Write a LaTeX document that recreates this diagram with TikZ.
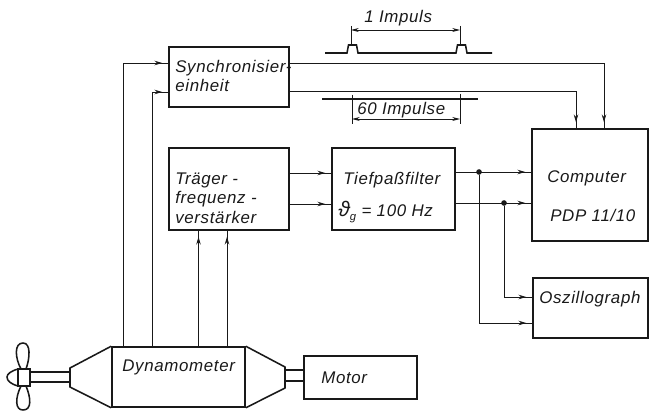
\documentclass[tikz,border=0pt]{standalone}
\usepackage{fontspec}
\setmainfont[LetterSpace=4]{Liberation Sans}
\usepackage{xcolor}
\definecolor{inkcolor}{RGB}{25,25,25}
\usepackage{tikz}
\usetikzlibrary{arrows.meta,decorations.markings}

\begin{document}
\begin{tikzpicture}[x=0.025cm, y=-0.025cm, every node/.style={color=inkcolor, font=\fontsize{12}{14}\selectfont\itshape},
    box/.style={draw=inkcolor, line width=1.1pt, inner sep=0pt},
    boxtext/.style={anchor=west, align=left, inner sep=0pt},
    dot/.style={circle, fill=inkcolor, inner sep=0pt, minimum size=4pt},
    sig/.style={draw=inkcolor, line width=0.6pt},
    sigin/.style={sig, postaction={decorate}, decoration={markings, mark=at position -0.15cm with {\arrow{Stealth[length=5.5pt,width=3.2pt]}}}},
    dim/.style={draw=inkcolor, line width=0.6pt, {Stealth[length=5.5pt,width=2.8pt]}-{Stealth[length=5.5pt,width=2.8pt]}},
    body/.style={draw=inkcolor, line width=1.1pt}]
  \useasboundingbox (0,0) rectangle (649,413);

  % boxes
  \node[box, minimum width=3cm, minimum height=1.5cm] (sync) at (229,77) {};
  \node[box, minimum width=3cm, minimum height=2.05cm] (traeger) at (229,189) {};
  \node[box, minimum width=3.075cm, minimum height=2.05cm] (tief) at (393.5,189) {};
  \node[box, minimum width=2.9cm, minimum height=2.8cm] (comp) at (590,185) {};
  \node[box, minimum width=2.875cm, minimum height=1.5cm] (oszi) at (590.5,308) {};
  \node[box, minimum width=2.825cm, minimum height=1.075cm] (motor) at (360.5,377.5) {};
  \node[box, minimum width=3.325cm, minimum height=1.5cm] (dyn) at (178.5,377) {};

  % labels
  \node[boxtext] (synctext) at (175,76) {Synchronisier-\\einheit};
  \node[boxtext] (traegertext) at (175,198) {Träger -\\frequenz -\\verstärker};
  \node[boxtext] (tieftext) at (343,180) {Tiefpaßfilter};
  \node[boxtext] (grenztext) at (338,212) {{\fontsize{15}{15}\selectfont ϑ}\raisebox{-3pt}{\footnotesize g} = 100 Hz};
  \node[boxtext] (comptext) at (547,178) {Computer};
  \node[boxtext] (pdptext) at (550,215) {PDP 11/10};
  \node[boxtext] (oszitext) at (539,299) {Oszillograph};
  \node[boxtext] (dyntext) at (122,367) {Dynamometer};
  \node[boxtext] (motortext) at (321,378) {Motor};
  \node[boxtext] (einstext) at (364,18) {1 Impuls};
  \node[boxtext] (sechzigtext) at (357,110) {60 Impulse};

  % propeller and shafts
  \draw[body] (dyn.north west) -- (70,368) -- (70,387) -- (dyn.south west);
  \draw[body] (dyn.north east) -- (285,367) -- (285,388) -- (dyn.south east);
  \draw[body] (30,372) -- (70,372) (30,382) -- (70,382);
  \draw[body] (285,370) -- (motor.west |- 0,370) (285,381) -- (motor.west |- 0,381);
  \draw[body] (18,369) rectangle (30,386);
  \draw[body] (18,369) .. controls (11,371) and (7,374) .. (7,377) .. controls (7,381) and (11,384) .. (18,386);
  \draw[body] (21,369) .. controls (15,358) and (14,343) .. (23,343) .. controls (31,343) and (30,358) .. (26,369);
  \draw[body] (21,386) .. controls (15,398) and (15,410) .. (23,410) .. controls (32,410) and (31,398) .. (26,386);

  % connectors
  \coordinate (dynA) at (123,0 |- dyn.north);
  \coordinate (dynB) at (152.5,0 |- dyn.north);
  \coordinate (dynC) at (198.5,0 |- dyn.north);
  \coordinate (dynD) at (227,0 |- dyn.north);
  \coordinate (syncA) at (sync.west |- 0,63);
  \coordinate (syncB) at (sync.west |- 0,92);
  \coordinate (syncC) at (sync.east |- 0,63);
  \coordinate (syncD) at (sync.east |- 0,91);
  \coordinate (compA) at (604,0 |- comp.north);
  \coordinate (compB) at (576,0 |- comp.north);
  \draw[sigin] (dynA) |- (syncA);
  \draw[sigin] (dynB) |- (syncB);
  \draw[sigin] (dynC) -- (198.5,0 |- traeger.south);
  \draw[sigin] (dynD) -- (227,0 |- traeger.south);
  \draw[sigin] (syncC) -| (compA);
  \draw[sigin] (syncD) -| (compB);
  \draw[sigin] (traeger.east |- 0,173) -- (tief.west |- 0,173);
  \draw[sigin] (traeger.east |- 0,204) -- (tief.west |- 0,204);
  \node[dot] (juncA) at (479,172) {};
  \node[dot] (juncB) at (504,203) {};
  \draw[sigin] (tief.east |- juncA) -- (comp.west |- juncA);
  \draw[sigin] (tief.east |- juncB) -- (comp.west |- juncB);
  \draw[sigin] (juncA) |- (oszi.west |- 0,323);
  \draw[sigin] (juncB) |- (oszi.west |- 0,297);

  % pulses
  \draw[line width=1.1pt, color=inkcolor] (325,53) -- (347,53) -- (348.5,45) -- (356.5,45) -- (358,53) -- (456,53) -- (457.5,45) -- (465.5,45) -- (467,53) -- (492,53);
  \draw[line width=0.8pt, color=inkcolor] (322,99) -- (478,99);
  \coordinate (tickA) at (351,30);
  \coordinate (tickB) at (460,30);
  \coordinate (tickC) at (352,119);
  \coordinate (tickD) at (460,119);
  \draw[sig] (351,26) -- (351,45) (460,26) -- (460,45);
  \draw[sig] (352,95) -- (352,124) (460,94) -- (460,124);
  \draw[dim] (tickA) -- (tickB);
  \draw[dim] (tickC) -- (tickD);
\end{tikzpicture}
\end{document}
